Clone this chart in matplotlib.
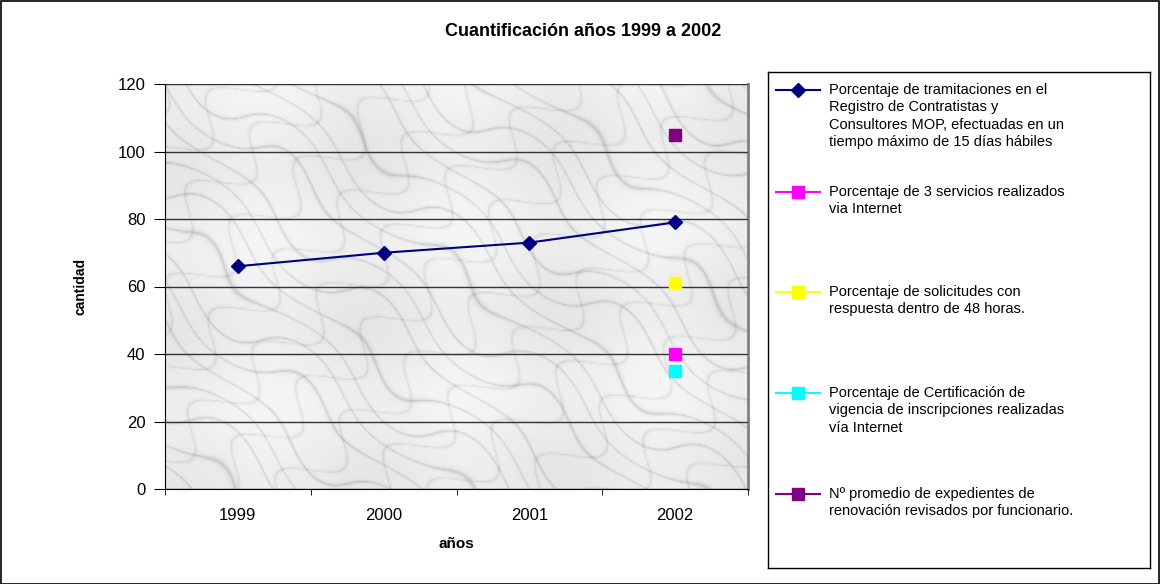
import numpy as np
import matplotlib.pyplot as plt
from matplotlib.patches import Rectangle

plt.rcParams['font.family'] = ['Liberation Sans', 'DejaVu Sans']

# datos
anios = ['1999', '2000', '2001', '2002']
tramitaciones = [66, 70, 73, 79]
servicios_internet = [None, None, None, 40]
solicitudes_48h = [None, None, None, 61]
certificacion = [None, None, None, 35]
expedientes = [None, None, None, 105]

series = [
    ("Porcentaje de tramitaciones en el\nRegistro de Contratistas y\nConsultores MOP, efectuadas en un\ntiempo máximo de 15 días hábiles",
     tramitaciones, '#000080', 'D'),
    ("Porcentaje de 3 servicios realizados\nvia Internet", servicios_internet, '#FF00FF', 's'),
    ("Porcentaje de solicitudes con\nrespuesta dentro de 48 horas.", solicitudes_48h, '#FFFF00', 's'),
    ("Porcentaje de Certificación de\nvigencia de inscripciones realizadas\nvía Internet", certificacion, '#00FFFF', 's'),
    ("Nº promedio de expedientes de\nrenovación revisados por funcionario.", expedientes, '#800080', 's'),
]

W, H = 1160, 584
fig = plt.figure(figsize=(W / 100, H / 100), dpi=100)
fig.patch.set_facecolor('white')
fig.add_artist(Rectangle((0.5 / W, 0.5 / H), 1 - 1.5 / W, 1 - 1.5 / H, transform=fig.transFigure,
                         fill=False, edgecolor='black', linewidth=1.2))

ax = fig.add_axes([165 / W, 1 - 489 / H, (748 - 165) / W, (489 - 84) / H])

# fondo tipo mármol (solo decorativo)
yy, xx = np.mgrid[0:300, 0:450] / 60.0
u = xx * 0.9 - yy * 1.2
v = xx * 0.7 + yy * 0.8
veins = np.sin(6.0 * u + 1.5 * np.sin(2.7 * v) + 1.1 * np.sin(3.3 * u + 1.7 * v))
veins2 = np.sin(4.3 * v + 1.2 * np.sin(3.9 * u))
base = 0.93 + 0.03 * np.sin(1.3 * u) * np.sin(1.9 * v)
tex = base - 0.16 * (1 - np.abs(veins)) ** 10 - 0.10 * (1 - np.abs(veins2)) ** 14
ax.imshow(tex, cmap='gray', vmin=0.0, vmax=1.0, extent=(-0.5, 3.5, 0, 120),
          aspect='auto', zorder=0, interpolation='bilinear')

x = np.arange(len(anios))
for label, vals, color, marker in series:
    y = np.array([np.nan if v is None else v for v in vals], dtype=float)
    ms = 7 if marker == 'D' else 8
    ax.plot(x, y, color=color, marker=marker, markersize=ms, linewidth=1.5,
            markeredgecolor=color, zorder=3)

ax.set_xlim(-0.5, 3.5)
ax.set_ylim(0, 120)
ax.set_yticks(range(0, 121, 20))
ax.set_xticks(x)
ax.set_xticklabels(anios, fontsize=12)
ax.set_xticks(np.arange(-0.5, 3.6, 1), minor=True)
ax.tick_params(axis='x', which='major', length=0, pad=14)
ax.tick_params(axis='x', which='minor', length=4, direction='out', color='black')
ax.tick_params(axis='y', length=8, direction='out', labelsize=12, pad=6)
ax.yaxis.grid(True, color='#333333', linewidth=1)
ax.set_axisbelow(False)
for gl in ax.get_ygridlines():
    gl.set_zorder(1)
ax.spines['left'].set_color('black')
ax.spines['bottom'].set_color('black')
ax.spines['top'].set_color('#808080')
ax.spines['right'].set_color('#808080')
ax.spines['right'].set_linewidth(2)
ax.set_ylabel('cantidad', fontsize=10, fontweight='bold', labelpad=22)
ax.set_xlabel('años', fontsize=11, fontweight='bold', labelpad=10)

fig.text(583 / W, 1 - 32 / H, 'Cuantificación años 1999 a 2002', ha='center', va='center',
         fontsize=13, fontweight='bold')

# leyenda
lax = fig.add_axes([768 / W, 1 - 568 / H, (1150 - 768) / W, (568 - 72) / H])
lax.set_xlim(0, 382)
lax.set_ylim(496, 0)
lax.set_xticks([])
lax.set_yticks([])
for s in lax.spines.values():
    s.set_color('black')
    s.set_linewidth(1)
entry_y = [18, 120, 220, 321, 422]
for (label, vals, color, marker), ey in zip(series, entry_y):
    ms = 7 if marker == 'D' else 8
    lax.plot([8, 52], [ey, ey], color=color, linewidth=1.5)
    lax.plot([30], [ey], color=color, marker=marker, markersize=ms, markeredgecolor=color)
    lax.text(61, ey - 7, label, fontsize=10.5, va='top', ha='left', linespacing=1.3)

fig.savefig('out.png', dpi=100)
